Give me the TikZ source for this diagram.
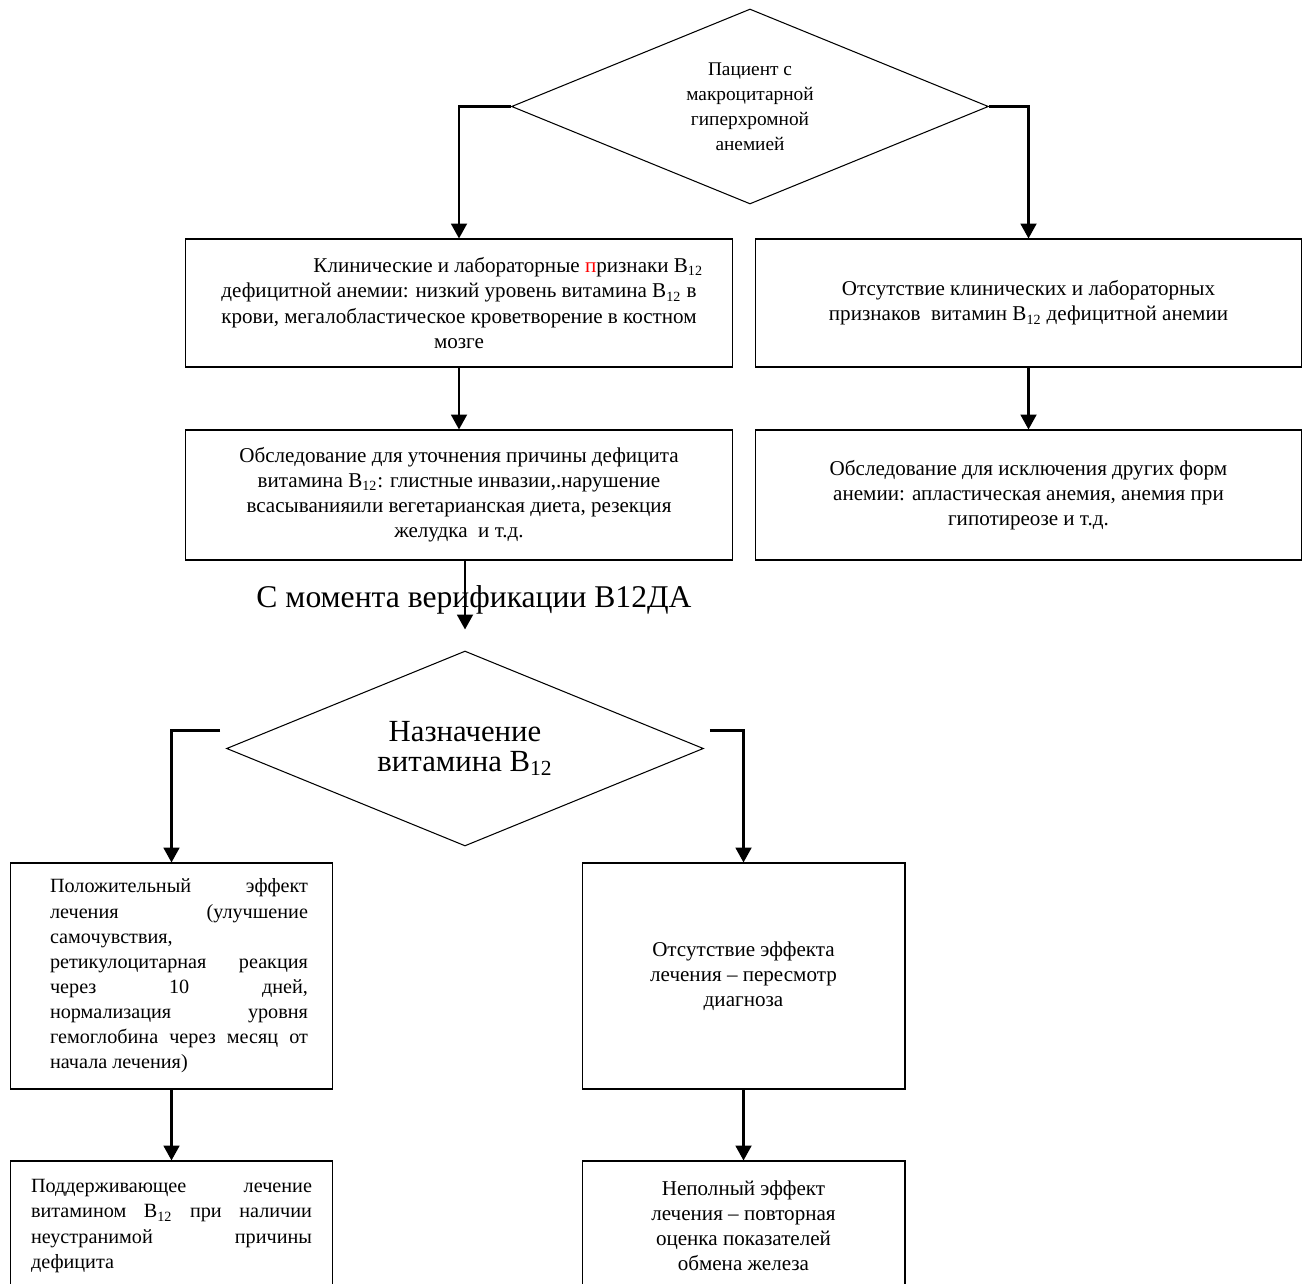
\documentclass[tikz,border=0pt]{standalone}
\usepackage{fontspec}
\setmainfont{Liberation Serif}
\usetikzlibrary{shapes.geometric,arrows.meta,calc}

\begin{document}
\begin{tikzpicture}[x=0.02cm,y=-0.02cm]
        \tikzstyle{every node}=[font=\fontsize{12}{14.3}\selectfont, inner sep=0pt]
        \tikzstyle{box}=[draw, line width=0.6pt, rectangle, align=center]
        \tikzstyle{jbox}=[box, font=\fontsize{11.5}{14.3}\selectfont, align=flush left]
        \tikzstyle{decision}=[draw, line width=0.6pt, diamond, aspect=2.45, align=center, minimum width=9.54cm, minimum height=3.9cm]
        \tikzstyle{arr}=[line width=1.4pt, -{Triangle[width=9pt,length=8.5pt]}]
        \useasboundingbox (0,0) rectangle (1306,1284);
        \clip (0,0) rectangle (1306,1284);

        % first decision and the two branches
        \node[decision, font=\fontsize{11}{14.3}\selectfont] (start) at (750,106.5) {Пациент с\\ макроцитарной\\ гиперхромной\\ анемией};
        \node[box, minimum width=10.96cm, minimum height=2.56cm] (signs) at (459,303)
            {\hspace*{56pt}Клинические и лабораторные {\color{red}п}ризнаки B\textsubscript{12}\\
             дефицитной анемии: низкий уровень витамина B\textsubscript{12} в\\
             крови, мегалобластическое кроветворение в костном\\ мозге};
        \node[box, minimum width=10.94cm, minimum height=2.56cm] (nosigns) at (1028.5,303)
            {Отсутствие клинических и лабораторных\\ признаков~ витамин B\textsubscript{12} дефицитной анемии};
        \node[box, minimum width=10.96cm, minimum height=2.6cm] (cause) at (459,495)
            {Обследование для уточнения причины дефицита\\
             витамина B\textsubscript{12}: глистные инвазии,.нарушение\\
             всасыванияили вегетарианская диета, резекция\\ желудка~ и т.д.};
        \node[box, minimum width=10.94cm, minimum height=2.6cm] (other) at (1028.5,495)
            {Обследование для исключения других форм\\
             анемии: апластическая анемия, анемия при\\ гипотиреозе и т.д.};

        % treatment
        \node[font=\fontsize{18}{20}\selectfont] (verif) at (474,600) {С момента верификации В12ДА};
        \node[decision, font=\fontsize{17.5}{17}\selectfont] (treat) at (465,748.5) {Назначение\\ витамина B\textsubscript{12}};
        \node[jbox, minimum width=6.46cm, minimum height=4.52cm, text width=5.46cm] (good) at (171.5,976)
            {\leftskip=0.3cm
             Положительный\hfill эффект\\
             лечения\hfill (улучшение\\
             самочувствия,\\
             ретикулоцитарная\hfill реакция\\
             через\hfill 10\hfill дней,\\
             нормализация\hfill уровня\\
             гемоглобина\hfill через\hfill месяц\hfill от\\
             начала лечения)\par};
        \node[box, minimum width=6.46cm, minimum height=4.52cm] (none) at (743.5,976)
            {Отсутствие эффекта\\ лечения – пересмотр\\ диагноза};
        \node[jbox, minimum width=6.46cm, minimum height=2.6cm, text width=5.62cm] (keep) at (171.5,1226)
            {Поддерживающее\hfill лечение\\
             витамином\hfill B\textsubscript{12}\hfill при\hfill наличии\\
             неустранимой\hfill причины\\
             дефицита};
        \node[box, minimum width=6.46cm, minimum height=2.6cm] (part) at (743.5,1226)
            {Неполный эффект\\ лечения – повторная\\ оценка показателей\\ обмена железа};

        % connectors
        \draw[arr] (start.west) -| (signs.north);
        \draw[arr] (start.east) -| (nosigns.north);
        \draw[arr] (signs) -- (cause);
        \draw[arr] (nosigns) -- (other);
        \draw[arr] (cause.south -| treat.north) -- ($(treat.north)+(0,-21)$);
        \draw[arr] ($(treat.west)+(-6,-18)$) -| (good.north);
        \draw[arr] ($(treat.east)+(6,-18)$) -| (none.north);
        \draw[arr] (good) -- (keep);
        \draw[arr] (none) -- (part);
    \end{tikzpicture}
\end{document}
